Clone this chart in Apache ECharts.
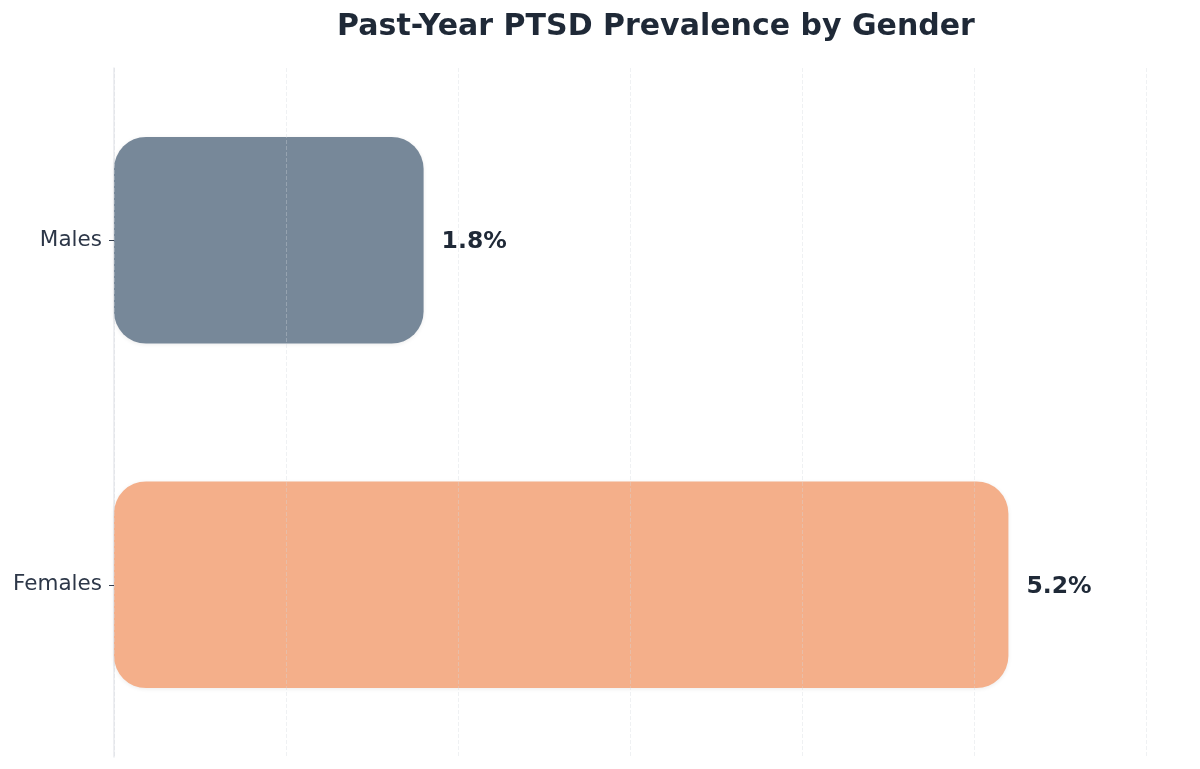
<!DOCTYPE html>
<html>
<head>
<meta charset="utf-8">
<script src="https://cdn.jsdelivr.net/npm/echarts@6/dist/echarts.min.js"></script>
<style>
  html, body { margin: 0; padding: 0; background: #ffffff; }
  #chart { width: 1200px; height: 769px; }
</style>
</head>
<body>
<div id="chart"></div>
<script>
// data
var genders = ['Males', 'Females'];
var prevalence = [1.8, 5.2];
var barColors = ['#778899', '#F4AF8A'];

var chart = echarts.init(document.getElementById('chart'));

var seriesData = [];
for (var i = 0; i < genders.length; i++) {
    seriesData.push({
        value: prevalence[i],
        itemStyle: { color: barColors[i] }
    });
}

var option = {
    backgroundColor: '#ffffff',
    textStyle: { fontFamily: 'DejaVu Sans' },
    title: {
        text: 'Past-Year PTSD Prevalence by Gender',
        left: 651,
        textAlign: 'center',
        top: 7,
        textStyle: {
            fontFamily: 'DejaVu Sans',
            fontSize: 30,
            fontWeight: 'bold',
            color: '#1f2937'
        }
    },
    grid: {
        left: 114,
        right: 54,
        top: 68,
        bottom: 12
    },
    xAxis: {
        type: 'value',
        min: 0,
        max: 6,
        interval: 1,
        z: 5,
        axisLabel: { show: false },
        axisTick: { show: false },
        axisLine: { show: false },
        splitLine: {
            show: true,
            lineStyle: { color: 'rgba(210,214,222,0.35)', type: 'dashed', width: 1 }
        }
    },
    yAxis: {
        type: 'category',
        inverse: true,
        data: genders,
        axisLine: { show: true, lineStyle: { color: '#e8eaee', width: 1.5 } },
        axisTick: { show: true, length: 5, alignWithLabel: true, lineStyle: { color: '#374151' } },
        axisLabel: {
            fontFamily: 'DejaVu Sans',
            fontSize: 21.5,
            color: '#2d3748',
            margin: 12,
            padding: [8, 0, 0, 0]
        }
    },
    series: [
        {
            type: 'bar',
            z: 2,
            data: seriesData,
            barWidth: '60%',
            itemStyle: {
                borderRadius: 32,
                shadowBlur: 4,
                shadowColor: 'rgba(0,0,0,0.08)',
                shadowOffsetY: 1
            },
            label: {
                show: true,
                position: 'right',
                distance: 18,
                offset: [0, 2],
                formatter: function (p) { return p.value.toFixed(1) + '%'; },
                fontFamily: 'DejaVu Sans',
                fontSize: 23.5,
                fontWeight: 'bold',
                color: '#1f2937'
            }
        }
    ]
};

chart.setOption(option);
</script>
</body>
</html>
